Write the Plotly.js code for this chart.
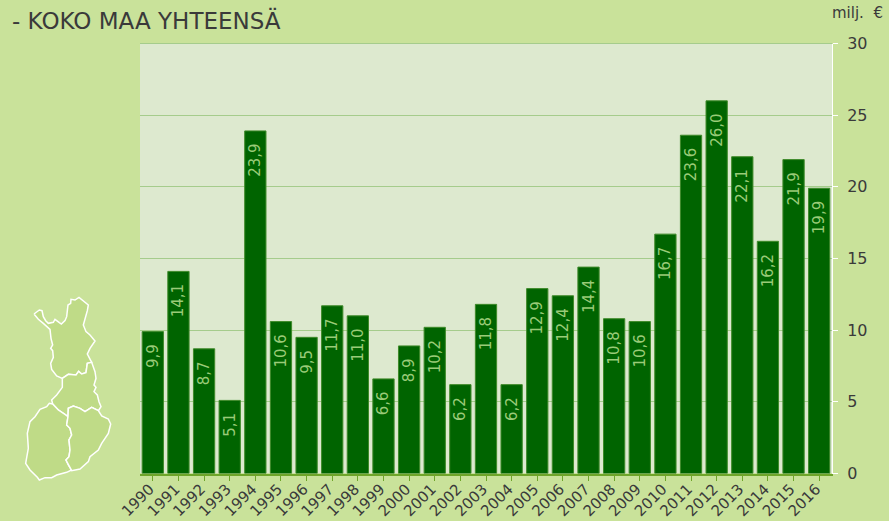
<!DOCTYPE html>
<html><head><meta charset="utf-8">
<script src="https://cdn.plot.ly/plotly-3.0.1.min.js"></script>
<style>html,body{margin:0;padding:0;background:#c9e29a;overflow:hidden}</style>
</head><body><div id="chart" style="width:889px;height:521px"></div>
<script>
const years = [1990,1991,1992,1993,1994,1995,1996,1997,1998,1999,2000,2001,2002,2003,2004,2005,2006,2007,2008,2009,2010,2011,2012,2013,2014,2015,2016];
const values = [9.9,14.1,8.7,5.1,23.9,10.6,9.5,11.7,11.0,6.6,8.9,10.2,6.2,11.8,6.2,12.9,12.4,14.4,10.8,10.6,16.7,23.6,26.0,22.1,16.2,21.9,19.9];
const yTicks = [0,5,10,15,20,25,30];
const labels = values.map(v => v.toFixed(1).replace('.', ',') + '\u00a0\u00a0');

const northX = [102,118,126,130,137,145,160,165,178,184,195,200,204,212,213,225,237,250,265,262,258,252,250,258,270,285,270,262,275,262,258,245,236,228,205,187,170,155,152,160,158,152,158,153,150,130,115,102];
const northY = [102,90,92,110,122,130,127,118,128,132,122,110,75,70,58,60,52,64,75,92,108,125,135,155,165,183,205,222,247,250,278,282,274,285,283,295,288,268,250,232,212,205,195,175,148,130,118,102];
const midX = [187,205,228,236,245,258,262,275,285,288,282,288,282,292,297,303,295,275,255,240,220,205,204,195,175,158,155,170,187,187];
const midY = [295,283,285,274,282,278,250,247,275,295,315,322,335,345,365,380,392,382,395,385,378,385,410,403,390,372,360,345,322,295];
const westX = [158,175,195,204,200,210,215,207,210,207,198,205,215,200,170,155,135,118,112,90,77,85,82,90,105,120,140,148,158];
const westY = [372,390,403,410,435,445,465,480,510,530,540,555,570,577,585,593,593,600,592,570,550,505,460,425,410,388,380,370,372];
const eastX = [204,205,220,240,255,275,295,305,325,332,325,305,295,270,265,240,215,205,198,207,210,207,215,210,200,204];
const eastY = [410,385,378,385,395,382,392,408,417,432,460,490,510,530,545,567,572,555,540,530,510,480,465,445,435,410];

const region = (x, y) => ({type:'scatter', mode:'lines', x, y, xaxis:'x2', yaxis:'y2', fill:'toself',
  fillcolor:'#bfdb87', line:{color:'#ffffff', width:1.5}, hoverinfo:'skip', showlegend:false});

const traces = [
  {type:'bar', x:years, y:values, text:labels, textposition:'inside', insidetextanchor:'end', textangle:-90,
   textfont:{family:'DejaVu Sans', size:15, color:'#9acb78'}, constraintext:'none',
   marker:{color:'#006400', line:{color:'#3f8a2a', width:1}}, showlegend:false},
  region(northX, northY), region(midX, midY), region(westX, westY), region(eastX, eastY)
];

const W = 889, H = 521;
const layout = {
  width:W, height:H, margin:{l:0,r:0,t:0,b:0,pad:0}, autosize:false,
  paper_bgcolor:'#c9e29a', plot_bgcolor:'rgba(0,0,0,0)',
  font:{family:'DejaVu Sans', color:'#3a3a3a', size:16},
  bargap:0.17, showlegend:false,
  shapes:[
    {type:'rect', xref:'paper', yref:'paper', x0:140/W, x1:832/W, y0:1-473/H, y1:1-43/H, layer:'below',
     fillcolor:'#dde9cf', line:{width:0}},
    {type:'line', xref:'paper', yref:'paper', x0:140/W, x1:832/W, y0:1-43.5/H, y1:1-43.5/H, layer:'below',
     line:{color:'#a5cc8c', width:1}}
  ],
  title:{text:'- KOKO MAA YHTEENSÄ', x:12/W, xref:'paper', xanchor:'left', y:1-21/H, yref:'paper', yanchor:'middle',
         font:{family:'DejaVu Sans', size:23, color:'#3a3a3a'}},
  xaxis:{domain:[140/W,832/W], range:[1989.5,2016.5], tickmode:'array', tickvals:years, ticktext:years.map(String),
         tickangle:-45, ticks:'outside', ticklen:5, tickcolor:'#6fa52a', tickwidth:1, ticklabelstandoff:-6, ticklabelshift:-3,
         showline:true, linecolor:'#6fa52a', linewidth:2, showgrid:false, zeroline:false,
         tickfont:{family:'DejaVu Sans', size:15, color:'#3a3a3a'}},
  yaxis:{domain:[1-473.5/H,1-43.5/H], range:[0,30], side:'right', tickmode:'array', tickvals:yTicks,
         ticks:'outside', ticklen:5, tickcolor:'#ffffff', tickwidth:1, ticklabelstandoff:6,
         showline:true, linecolor:'#ffffff', linewidth:1, showgrid:true, gridcolor:'#a5cc8c', gridwidth:1, zeroline:false,
         tickfont:{family:'DejaVu Sans', size:16, color:'#3a3a3a'}},
  xaxis2:{domain:[0,140/W], range:[0,420], visible:false, anchor:'y2', fixedrange:true},
  yaxis2:{domain:[1-500/H,1-280/H], range:[660,0], visible:false, anchor:'x2', fixedrange:true},
  annotations:[{text:'milj.\u00a0 €', xref:'paper', yref:'paper', x:885/W, y:1-13/H, xanchor:'right', yanchor:'middle', showarrow:false,
                font:{family:'DejaVu Sans', size:15, color:'#3a3a3a'}}]
};
Plotly.newPlot('chart', traces, layout, {displayModeBar:false, staticPlot:true});
</script></body></html>
